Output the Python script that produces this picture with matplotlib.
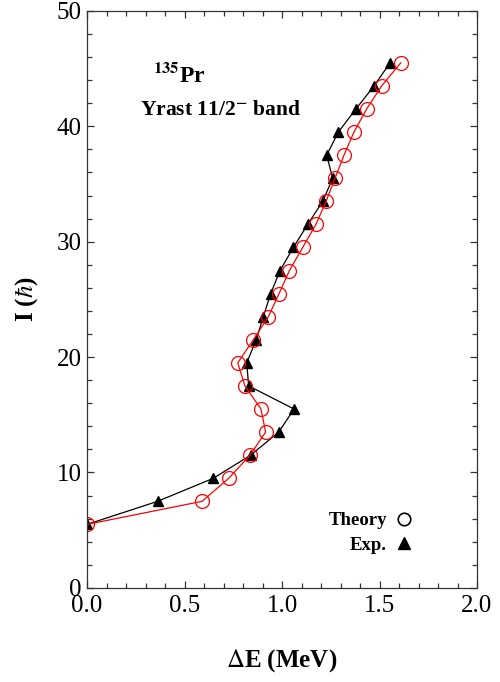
import matplotlib.pyplot as plt
from matplotlib.lines import Line2D
from matplotlib.ticker import MultipleLocator

plt.rcParams['font.family'] = ['Liberation Serif', 'DejaVu Serif']
plt.rcParams['mathtext.fontset'] = 'stix'

# spin values (hbar)
spin = [5.5, 7.5, 9.5, 11.5, 13.5, 15.5, 17.5, 19.5, 21.5, 23.5, 25.5, 27.5,
        29.5, 31.5, 33.5, 35.5, 37.5, 39.5, 41.5, 43.5, 45.5]
# theory dE (MeV)
theory = [0.0, 0.59, 0.727, 0.836, 0.916, 0.892, 0.81, 0.773, 0.853, 0.93,
          0.985, 1.038, 1.106, 1.174, 1.226, 1.272, 1.318, 1.369, 1.434, 1.511, 1.609]
# experimental dE (MeV)
exp = [0.0, 0.362, 0.648, 0.839, 0.983, 1.062, 0.829, 0.819, 0.868, 0.904,
       0.942, 0.99, 1.058, 1.132, 1.209, 1.26, 1.229, 1.289, 1.379, 1.472, 1.554]

fig = plt.figure(figsize=(5, 6.82), dpi=100)
ax = fig.add_axes([0.174, 0.138, 0.78, 0.846])

ax.plot(exp, spin, color='black', lw=0.9, marker='^', ms=7, mfc='black', mec='black')
ax.plot(theory, spin, color='red', lw=0.9, marker='o', ms=10, mfc='none', mec='red', mew=0.9)

ax.set_xlim(0, 2.0)
ax.set_ylim(0, 50)
ax.xaxis.set_major_locator(MultipleLocator(0.5))
ax.xaxis.set_minor_locator(MultipleLocator(0.1))
ax.yaxis.set_major_locator(MultipleLocator(10))
ax.yaxis.set_minor_locator(MultipleLocator(2))
ax.xaxis.set_major_formatter(plt.FuncFormatter(lambda v, p: f'{v:.1f}'))
ax.tick_params(which='both', direction='in', top=True, right=True, colors='#333333',
               labelcolor='black', labelsize=18, width=0.9)
ax.tick_params(which='major', length=5)
ax.tick_params(which='minor', length=3.5)
ax.tick_params(axis='x', pad=5)
ax.tick_params(axis='y', pad=4)
for s in ax.spines.values():
    s.set_color('#333333')
    s.set_linewidth(0.9)

ax.set_xlabel(r'$\Delta$E (MeV)', fontsize=18, fontweight='bold', labelpad=22)
ax.set_ylabel(r'I ($\hbar$)', fontsize=18, fontweight='bold', labelpad=12)

ax.text(0.238, 0.889, r'$^{\mathbf{135}}$Pr', transform=ax.transAxes, fontsize=17,
        fontweight='bold', ha='center', va='center')
ax.text(0.344, 0.828, 'Yrast 11/2$^{\\mathbf{-}}$ band', transform=ax.transAxes, fontsize=15.5,
        fontweight='bold', ha='center', va='center')

handles = [Line2D([], [], ls='none', marker='o', ms=9, mfc='none', mec='black', mew=1.2),
           Line2D([], [], ls='none', marker='^', ms=8, mfc='black', mec='black')]
ax.legend(handles, ['Theory', 'Exp.'], loc='lower right', bbox_to_anchor=(0.875, 0.03),
          frameon=False, markerfirst=False, handlelength=0.8, handletextpad=0.5,
          labelspacing=0.4, prop={'weight': 'bold', 'size': 13.5})

fig.savefig('out.png', dpi=100)
